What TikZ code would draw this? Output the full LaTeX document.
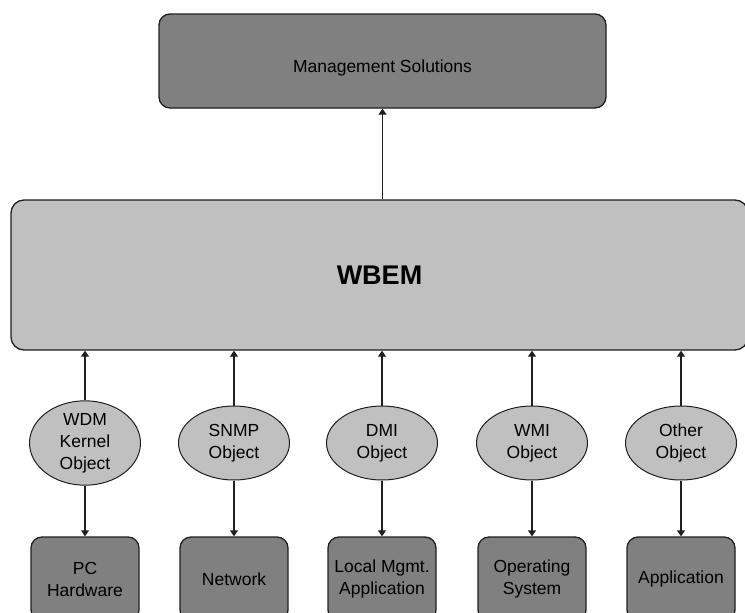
\documentclass[tikz,border=0pt]{standalone}
\usepackage{fontspec}
\setmainfont{Liberation Sans}
\usetikzlibrary{shapes.geometric,arrows.meta}
\definecolor{darkfill}{HTML}{808080}
\definecolor{lightfill}{HTML}{C0C0C0}
\definecolor{edge}{HTML}{202020}
\begin{document}
\begin{tikzpicture}[x=1pt,y=-1pt,
  label text/.style={font=\fontsize{17.5}{22}\selectfont, align=center, text=black},
  darkbox/.style={draw=edge, line width=1.3pt, fill=darkfill, rounded corners=11pt,
    inner sep=0pt, label text},
  layerbox/.style={draw=edge, line width=1.3pt, fill=lightfill, rounded corners=13pt,
    inner sep=0pt},
  provider/.style={ellipse, draw=edge, line width=1pt, fill=lightfill,
    minimum width=111pt, minimum height=74pt, inner sep=0pt, label text},
  source/.style={darkbox, minimum width=108pt, minimum height=84pt},
  arr/.style={draw=edge, line width=1.3pt, -{Triangle[width=8pt,length=6pt]}}]
\useasboundingbox (0,0) rectangle (745,613);
\clip (0,0) rectangle (745,613);
\fill[white] (0,0) rectangle (745,613);

% top and middle layers
\node[darkbox, minimum width=447pt, minimum height=94pt] (mgmt) at (382.5,61)
  {\raisebox{-11pt}[0pt][0pt]{Management Solutions}};
\node[layerbox, minimum width=737pt, minimum height=150pt] (wbem) at (379.5,275)
  {\fontsize{27}{32}\selectfont\bfseries WBEM};
\draw[arr] (wbem.north -| mgmt.south) -- (mgmt.south);

% providers and the sources they expose
\node[provider] (p1) at (85,443)  {WDM\\Kernel\\Object};
\node[provider] (p2) at (234,443) {SNMP\\Object};
\node[provider] (p3) at (382,443) {DMI\\Object};
\node[provider] (p4) at (532,443) {WMI\\Object};
\node[provider] (p5) at (681,443) {Other\\Object};

\node[source] (s1) at (85,579)  {PC\\Hardware};
\node[source] (s2) at (234,579) {Network};
\node[source] (s3) at (382,579) {Local Mgmt.\\Application};
\node[source] (s4) at (532,579) {Operating\\System};
\node[source] (s5) at (681,579) {Application};

\foreach \i in {1,...,5}{
  \draw[arr] (p\i.north) -- (p\i.north |- wbem.south);
  \draw[arr] (p\i.south) -- (s\i.north);
}
\end{tikzpicture}
\end{document}
